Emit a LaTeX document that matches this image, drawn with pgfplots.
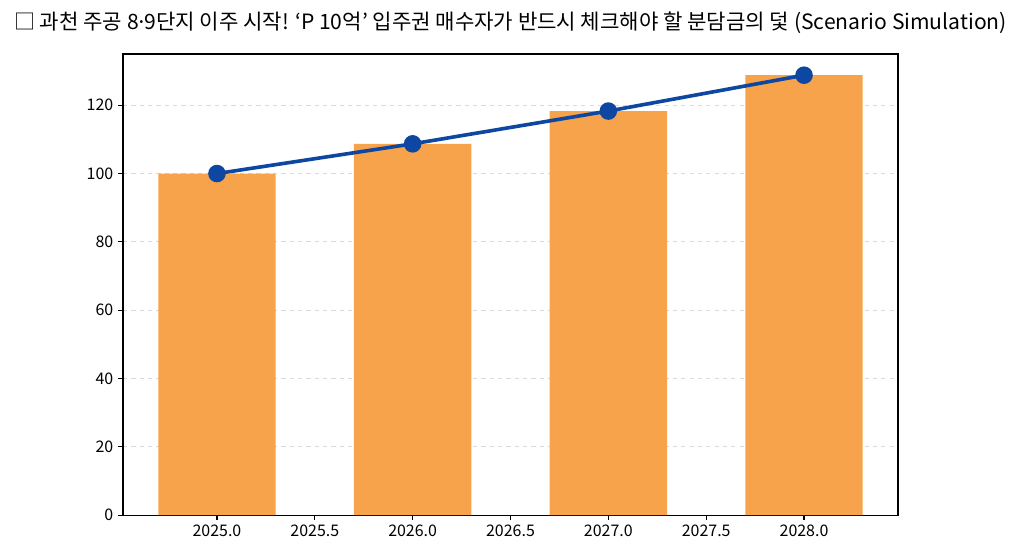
\documentclass[border=0pt]{standalone}
\usepackage{pgfplots}
\pgfplotsset{compat=1.18}
\usetikzlibrary{calc}
\usepackage{fontspec}
\setmainfont{Noto Sans CJK KR}
\newfontfamily\latinfont{Noto Sans}
\definecolor{barorange}{HTML}{F6A34B}
\definecolor{lineblue}{HTML}{0D47A1}
\begin{document}
\begin{tikzpicture}
\begin{axis}[
  scale only axis,
  width=558pt, height=332pt,
  xmin=2024.52, xmax=2028.48,
  ymin=0, ymax=135,
  xtick={2025,2025.5,...,2028},
  ytick={0,20,...,120},
  /pgf/number format/assume math mode=true,
  xticklabel style={/pgf/number format/.cd, fixed, fixed zerofill, precision=1, 1000 sep={}},
  yticklabel style={/pgf/number format/.cd, fixed, 1000 sep={}},
  tick label style={font=\fontsize{11.5}{13}\selectfont},
  tick align=outside, tickwidth=3.5pt,
  xtick pos=bottom, ytick pos=left,
  axis line style={line width=0.8pt},
  major tick style={line width=0.8pt, black},
  ymajorgrids,
  grid style={dashed, gray!30, line width=0.6pt},
  title={□ 과천 주공 8{\latinfont·}9단지 이주 시작! ‘P 10억’ 입주권 매수자가 반드시 체크해야 할 분담금의 덫 (Scenario Simulation)},
  title style={font=\fontsize{15.2}{17}\selectfont, yshift=5pt},
]
\addplot[ybar, bar width=0.6, bar shift=0pt, fill=barorange, draw=none]
coordinates{
(2025, 100) (2026, 108.7) (2027, 118.3) (2028, 128.8)
};
\addplot[color=lineblue, line width=2.6pt, mark=*, mark size=5pt,
  mark options={fill=lineblue, draw=lineblue}]
coordinates{
(2025, 100) (2026, 108.7) (2027, 118.3) (2028, 128.8)
};
\end{axis}
\path ($(current axis.south west)+(-88.6pt,-24.5pt)$)
  rectangle ($(current axis.north east)+(88.6pt,38.9pt)$);
\end{tikzpicture}
\end{document}
